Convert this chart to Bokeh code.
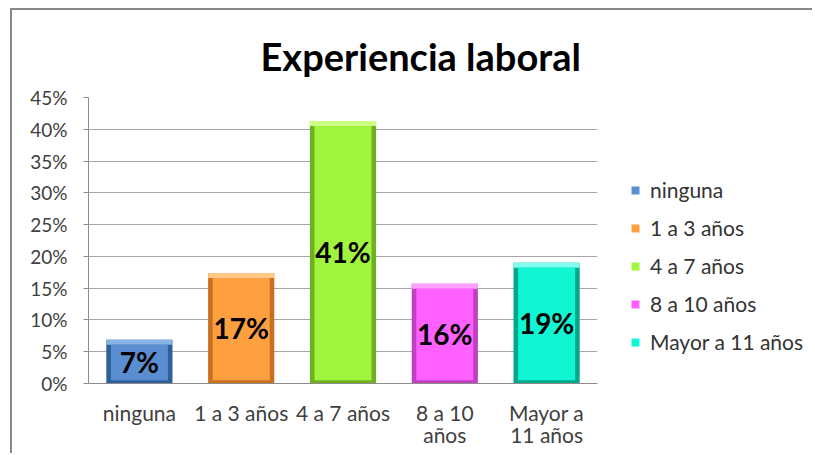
from bokeh.plotting import figure
from bokeh.layouts import row
from bokeh.models import (ColumnDataSource, FactorRange, Range1d, Legend, LegendItem,
                          NumeralTickFormatter, FixedTicker, CategoricalAxis)
from bokeh.embed import file_html
from bokeh.resources import INLINE
from bokeh.core.properties import value

categories = ["ninguna", "1 a 3 años", "4 a 7 años", "8 a 10 años", "Mayor a 11 años"]
tick_line1 = ["ninguna", "1 a 3 años", "4 a 7 años", "8 a 10", "Mayor a"]
tick_line2 = [" ", "  ", "   ", "años", "11 años"]
values = [0.069, 0.174, 0.413, 0.157, 0.19]
bar_labels = ["7%", "17%", "41%", "16%", "19%"]
colors = ["#5a8ed0", "#ffa040", "#a2f53e", "#ff60ff", "#10f5d2"]
dark_colors = ["#30609a", "#c87020", "#6eb020", "#c040c0", "#00a88c"]
light_colors = ["#8ab4e6", "#ffc684", "#cbff84", "#ffa0ff", "#80fff0"]

FONT = "Lato"
Y_LABEL_SIZE = "19px"
X_LABEL_SIZE = "21px"
LABEL_COLOR = "#404040"
BEVEL_TOP = 0.008
BEVEL_BOTTOM = 0.005

src = ColumnDataSource(dict(cat=tick_line1, val=values, lab=bar_labels,
                            mid=[v / 2 for v in values],
                            top_in=[v - BEVEL_TOP for v in values],
                            color=colors, dark=dark_colors, light=light_colors))

p = figure(width=588, height=443, x_range=FactorRange(*tick_line1), y_range=Range1d(0, 0.45),
           output_backend="svg", toolbar_location=None,
           min_border_left=76, min_border_right=3, min_border_top=87, min_border_bottom=70)
p.extra_x_ranges = {"line2": FactorRange(*tick_line2)}

p.title.text = "Experiencia laboral"
p.title.align = "left"
p.title.text_font = FONT
p.title.text_font_size = "38px"
p.title.text_font_style = "bold"
p.title.text_color = "#000000"
p.title.standoff = 37
p.title.offset = 172

# bevelled bars
p.vbar(x="cat", top="val", bottom=0, width=0.65, source=src, fill_color="dark", line_color=None)
p.vbar(x="cat", top="val", bottom="top_in", width=0.65, source=src, fill_color="light", line_color=None)
p.vbar(x="cat", top="top_in", bottom=BEVEL_BOTTOM, width=0.56, source=src, fill_color="color", line_color=None)
p.text(x="cat", y="mid", text="lab", source=src, text_align="center", text_baseline="middle",
       text_font=value(FONT), text_font_size="28px", text_font_style="bold", text_color="#000000")

p.yaxis.ticker = FixedTicker(ticks=[i * 0.05 for i in range(10)])
p.yaxis.formatter = NumeralTickFormatter(format="0%")
p.yaxis.major_label_standoff = 16
p.yaxis.major_tick_out = 5
p.yaxis.major_tick_in = 0
p.yaxis.major_tick_line_color = "#8c8c8c"
p.yaxis.minor_tick_line_color = None
p.yaxis.axis_line_color = "#8c8c8c"
p.yaxis.major_label_text_font = FONT
p.yaxis.major_label_text_font_size = Y_LABEL_SIZE
p.yaxis.major_label_text_color = LABEL_COLOR

xa = p.xaxis[0]
xa.major_tick_line_color = None
xa.major_tick_out = 0
xa.major_tick_in = 0
xa.major_label_standoff = 16
xa.axis_line_color = "#8c8c8c"
xa.major_label_text_font = FONT
xa.major_label_text_font_size = X_LABEL_SIZE
xa.major_label_text_color = LABEL_COLOR

xa2 = CategoricalAxis(x_range_name="line2",
                      major_tick_line_color=None, major_tick_out=0, major_tick_in=0,
                      axis_line_color=None, major_label_standoff=-6,
                      major_label_text_font=FONT, major_label_text_font_size=X_LABEL_SIZE,
                      major_label_text_color=LABEL_COLOR)
p.add_layout(xa2, "below")

p.xgrid.grid_line_color = None
p.ygrid.grid_line_color = "#a6a6a6"
p.outline_line_color = None

# legend panel
p2 = figure(width=212, height=443, x_range=FactorRange(*tick_line1), y_range=Range1d(0, 1),
            output_backend="svg", toolbar_location=None,
            min_border_left=0, min_border_right=0, min_border_top=87, min_border_bottom=70)
p2.axis.visible = False
p2.grid.grid_line_color = None
p2.outline_line_color = None
r2 = p2.vbar(x="cat", top=-2, bottom=-3, width=0.001, source=src, fill_color="color",
             line_color=None)

legend = Legend(items=[LegendItem(label=c, renderers=[r2], index=i) for i, c in enumerate(categories)],
                location=(30, 29), orientation="vertical",
                label_text_font=FONT, label_text_font_size="21px", label_text_color="#333333",
                glyph_width=10, glyph_height=10, label_height=20, spacing=13, padding=0,
                border_line_color=None, background_fill_alpha=0, label_standoff=10, margin=0)
p2.add_layout(legend, "center")

layout = row(p, p2, spacing=0)
layout.styles = {"border-left": "2px solid #888888", "border-top": "2px solid #888888",
                 "margin-left": "10px", "margin-top": "8px"}
open("out.html", "w").write(file_html(layout, INLINE))
